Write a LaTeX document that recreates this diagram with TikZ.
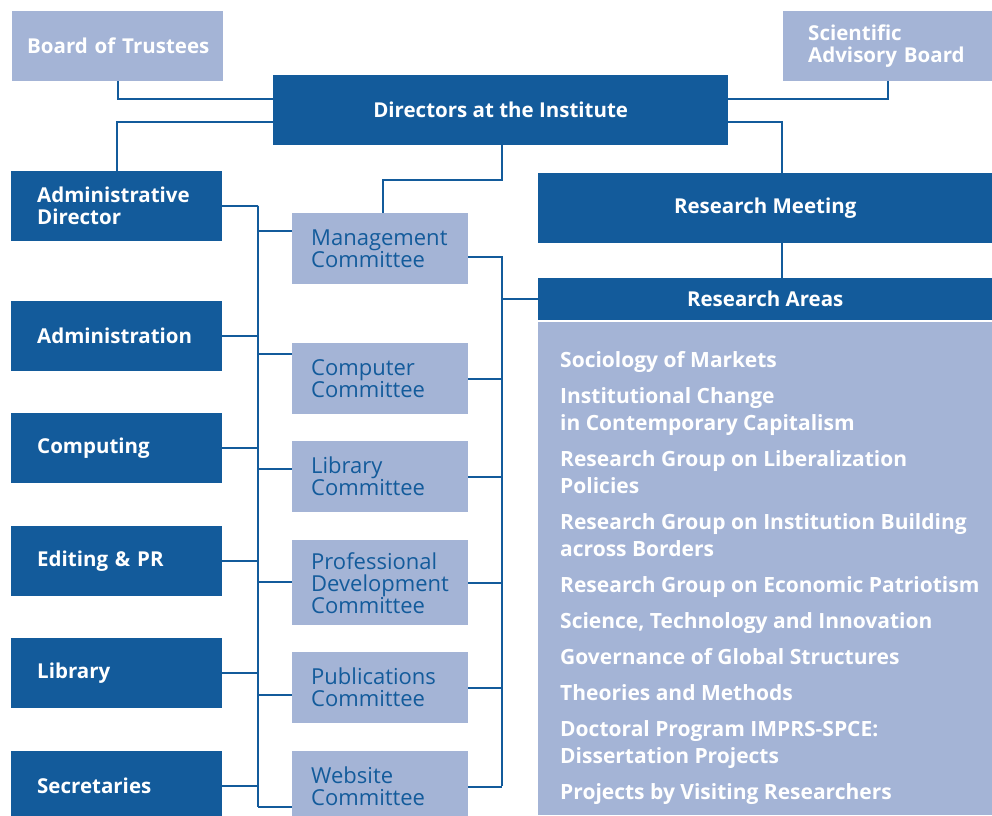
\documentclass[tikz,border=0pt]{standalone}
\usepackage{fontspec}
\setmainfont{Open Sans}
\usetikzlibrary{positioning}
\definecolor{colDark}{RGB}{19, 91, 155}
\definecolor{colLight}{RGB}{164, 180, 214}

\begin{document}
\begin{tikzpicture}[x=1pt, y=-1pt,
    every node/.style={font=\bfseries\fontsize{20.5}{22}\selectfont, inner ysep=0pt},
    darkbox/.style={fill=colDark, text=white, anchor=north west, minimum height=70pt},
    lightbox/.style={fill=colLight, text=white, anchor=north west, minimum height=70pt},
    cttbox/.style={fill=colLight, text=colDark, anchor=north west, minimum height=71pt,
        font=\mdseries\fontsize{22}{22}\selectfont, inner xsep=19pt, text width=138pt, align=left},
    unitbox/.style={darkbox, inner xsep=26pt, text width=159pt, align=left},
    conn/.style={draw=colDark, line width=2pt}
]
    \useasboundingbox (0,0) rectangle (992,815);

    % --- top level ---
    \node[lightbox, inner xsep=15pt, text width=181pt, align=left] (trustees) at (12,11) {\mbox{Board of Trustees}};
    \node[lightbox, inner xsep=25pt, text width=159pt, align=left] (advisory) at (783,11) {Scientific\\Advisory Board};
    \node[darkbox, minimum width=455pt] (directors) at (273,75) {Directors at the Institute};
    \node[darkbox, minimum width=454pt] (meeting) at (538,173) {Research Meeting};

    % --- administration column ---
    \node[unitbox] (admdir) at (11,171) {Administrative\\Director};
    \node[unitbox] (admin) at (11,301) {Administration};
    \node[unitbox] (computing) at (11,413) {Computing};
    \node[unitbox] (editing) at (11,526) {Editing \& PR};
    \node[unitbox] (library) at (11,638) {Library};
    \node[unitbox] (secret) at (11,751) {Secretaries};

    % --- committees ---
    \node[cttbox] (mgmt) at (292,213) {Management\\Committee};
    \node[cttbox] (compc) at (292,343) {Computer\\Committee};
    \node[cttbox] (libc) at (292,441) {Library\\Committee};
    \node[cttbox, minimum height=85pt] (profc) at (292,540) {Professional\\Development\\Committee};
    \node[cttbox] (publc) at (292,652) {Publications\\Committee};
    \node[cttbox] (webc) at (292,751) {Website\\Committee};

    % --- research areas ---
    \node[darkbox, minimum width=454pt, minimum height=42pt] (areas) at (538,278) {Research Areas};
    \node[fill=colLight, anchor=north west, minimum width=454pt, minimum height=493pt] (areabox) at (538,322) {};
    \node[anchor=north west, text=white, align=left, inner sep=0pt, font=\bfseries\fontsize{21}{27}\selectfont] (arealist) at (560,351)
        {Sociology of Markets\\[9pt]
         Institutional Change\\in Contemporary Capitalism\\[9pt]
         Research Group on Liberalization\\Policies\\[9pt]
         Research Group on Institution Building\\across Borders\\[9pt]
         Research Group on Economic Patriotism\\[9pt]
         Science, Technology and Innovation\\[9pt]
         Governance of Global Structures\\[9pt]
         Theories and Methods\\[9pt]
         Doctoral Program IMPRS-SPCE:\\Dissertation Projects\\[9pt]
         Projects by Visiting Researchers};

    % --- connectors at the top ---
    \coordinate (ltrunk) at (258,206);
    \coordinate (rtrunk) at (502,257);
    \draw[conn] (trustees.south) |- ([yshift=11pt]directors.west);
    \draw[conn] ([yshift=-12pt]directors.west) -| (admdir.north);
    \draw[conn] (advisory.south) |- ([yshift=11pt]directors.east);
    \draw[conn] ([yshift=-12pt]directors.east) -| ([xshift=17pt]meeting.north);
    \draw[conn] ([xshift=17pt]meeting.south) -- ([xshift=17pt]areas.north);
    \draw[conn] ([xshift=1pt]directors.south) -- ++(0,35) -| ([xshift=3pt]mgmt.north);

    % left trunk
    \draw[conn] (admdir.east) -| (ltrunk) -- (258,807);
    \foreach \nm in {admin, computing, editing, library, secret}
        \draw[conn] (\nm.east) -- (\nm.east -| ltrunk);
    \foreach \nm/\yy in {mgmt/231, compc/354, libc/469, profc/582, publc/695, webc/807}
        \draw[conn] (258,\yy) -- (\nm.west |- 0,\yy);

    % right trunk
    \draw[conn] ([yshift=-8pt]mgmt.east) -| (rtrunk) -- (502,786);
    \foreach \nm in {compc, libc, profc, publc, webc}
        \draw[conn] (\nm.east) -- (\nm.east -| rtrunk);
    \draw[conn] (areas.west -| rtrunk) -- (areas.west);

\end{tikzpicture}
\end{document}
